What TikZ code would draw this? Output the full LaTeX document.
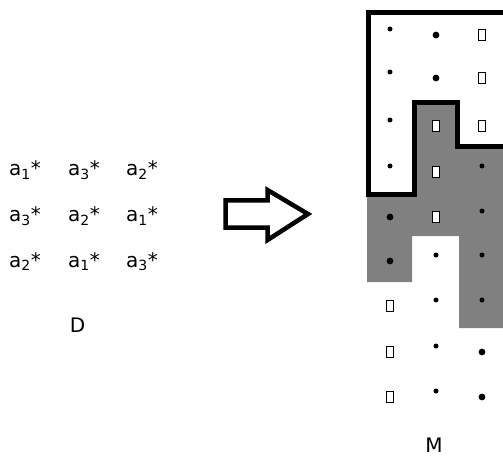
\documentclass[tikz,border=0pt]{standalone}
\usepackage{fontspec}
\setmainfont{DejaVu Sans}
\begin{document}
\begin{tikzpicture}[x=1pt,y=-1pt,
  lbl/.style={inner sep=0pt,anchor=base west,font=\fontsize{20}{24}\selectfont},
  captxt/.style={inner sep=0pt,anchor=base,font=\fontsize{20}{24}\selectfont},
  sdot/.style={fill=black,draw=none},
  box/.style={draw=black,line width=1.3pt,fill=white},
  frame/.style={draw=black,line width=5pt,line join=miter},
  bigarrow/.style={draw=black,line width=4.5pt,line join=miter,fill=white}]
\useasboundingbox (0,0) rectangle (503,457);
\clip (0,0) rectangle (503,457);
% left matrix
\node[lbl] (d11) at (9,176) {a\textsubscript{1}*};
\node[lbl] (d12) at (68,176) {a\textsubscript{3}*};
\node[lbl] (d13) at (126,176) {a\textsubscript{2}*};
\node[lbl] (d21) at (9,222) {a\textsubscript{3}*};
\node[lbl] (d22) at (68,222) {a\textsubscript{2}*};
\node[lbl] (d23) at (126,222) {a\textsubscript{1}*};
\node[lbl] (d31) at (9,267) {a\textsubscript{2}*};
\node[lbl] (d32) at (68,267) {a\textsubscript{1}*};
\node[lbl] (d33) at (126,267) {a\textsubscript{3}*};
\node[captxt] (D) at (77.5,332) {D};
% arrow
\draw[bigarrow] (225.5,200.5) -- (267.5,200.5) -- (267.5,190) -- (308,214)
  -- (267.5,240) -- (267.5,227.5) -- (225.5,227.5) -- cycle;
% gray region
\fill[gray] (414,103) -- (457,103) -- (457,146) -- (510,146) -- (510,328)
  -- (459,328) -- (459,236) -- (412,236) -- (412,282) -- (367,282)
  -- (367,194) -- (414,194) -- cycle;
% frame
\draw[frame] (368,13) -- (520,13) -- (520,146.5) -- (457,146.5) -- (457,103)
  -- (414.5,103) -- (414.5,194.5) -- (368,194.5) -- cycle;
% cell contents
\newcommand\smalldot[2]{\fill[sdot] (#1,#2-6) circle (2.5);}
\newcommand\bigdot[2]{\fill[sdot] (#1,#2) circle (3.4);}
\newcommand\sqbox[2]{\draw[box] (#1-3.5,#2-5.5) rectangle (#1+3.5,#2+5.5);}
\smalldot{390}{35}\bigdot{436}{35}\sqbox{482}{35}
\smalldot{390}{78}\bigdot{436}{78}\sqbox{482}{78}
\smalldot{390}{126}\sqbox{436}{126}\sqbox{482}{126}
\smalldot{390}{172}\sqbox{436}{172}\smalldot{482}{172}
\bigdot{390}{217}\sqbox{436}{217}\smalldot{482}{217}
\bigdot{390}{261}\smalldot{436}{261}\smalldot{482}{261}
\sqbox{390}{306}\smalldot{436}{306}\smalldot{482}{306}
\sqbox{390}{352}\smalldot{436}{352}\bigdot{482}{352}
\sqbox{390}{397}\smalldot{436}{397}\bigdot{482}{397}
\node[captxt] (M) at (434,452) {M};
\end{tikzpicture}
\end{document}
